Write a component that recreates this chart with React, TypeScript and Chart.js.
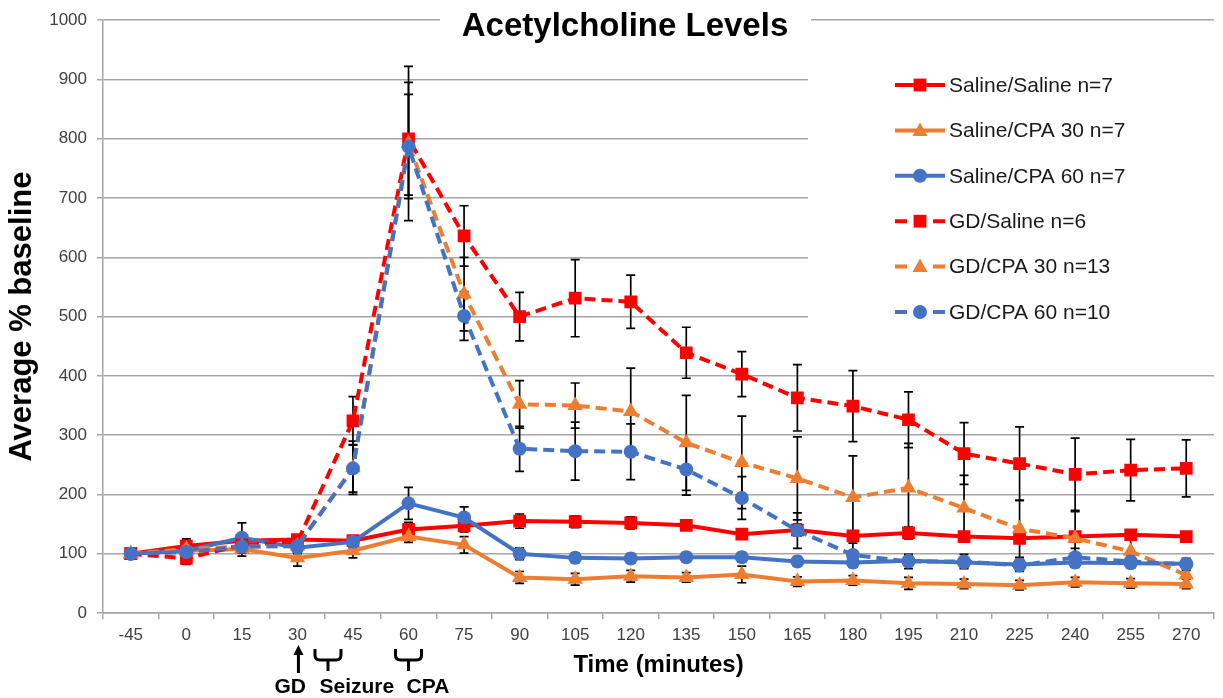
import React, { useEffect, useRef } from 'react';
import { Chart, registerables } from 'chart.js';

Chart.register(...registerables);

const FONT = "'Liberation Sans', Arial, Helvetica, sans-serif";

const timeLabels = ['-45', '0', '15', '30', '45', '60', '75', '90', '105', '120', '135', '150', '165', '180', '195', '210', '225', '240', '255', '270'];

const seriesNames = [
  'Saline/Saline n=7',
  'Saline/CPA 30 n=7',
  'Saline/CPA 60 n=7',
  'GD/Saline n=6',
  'GD/CPA 30 n=13',
  'GD/CPA 60 n=10',
];

const salineSaline = [100, 113, 122, 124, 122, 141, 147, 155, 154, 152, 148, 133, 140, 130, 135, 129, 126, 129, 132, 129];
const salineSalineErr = [6, 12, 10, 8, 8, 12, 10, 12, 10, 10, 8, 8, 10, 8, 10, 8, 8, 8, 8, 8];

const salineCpa30 = [100, 105, 108, 93, 105, 129, 115, 60, 57, 62, 60, 65, 53, 55, 50, 49, 47, 52, 50, 49];
const salineCpa30Err = [5, 10, 12, 14, 12, 10, 14, 10, 10, 10, 8, 14, 8, 8, 10, 8, 8, 8, 8, 8];

const salineCpa60 = [100, 105, 127, 110, 120, 185, 161, 100, 93, 92, 94, 94, 87, 85, 88, 85, 82, 85, 84, 83];
const salineCpa60Err = [5, 12, 25, 10, 10, 27, 18, 10, 8, 8, 8, 8, 8, 8, 8, 8, 8, 8, 8, 8];

const gdSaline = [100, 92, 115, 120, 324, 800, 636, 500, 531, 525, 439, 403, 363, 349, 326, 269, 252, 234, 241, 244];
const gdSalineErr = [5, 10, 10, 10, 41, 95, 51, 41, 65, 45, 43, 38, 56, 60, 47, 52, 62, 61, 52, 48];

const gdCpa30 = [100, 108, 112, 113, 245, 792, 538, 352, 350, 340, 287, 254, 227, 195, 211, 177, 142, 126, 104, 64];
const gdCpa30Err = [5, 10, 10, 10, 45, 130, 62, 40, 38, 73, 80, 78, 70, 70, 75, 55, 48, 45, 28, 20];

const gdCpa60 = [100, 103, 112, 113, 244, 787, 501, 277, 273, 272, 242, 194, 139, 98, 87, 87, 80, 94, 87, 82];
const gdCpa60Err = [5, 8, 10, 8, 40, 88, 41, 38, 49, 47, 43, 36, 30, 20, 12, 12, 10, 15, 10, 10];

const RED = '#ff0000';
const ORANGE = '#ed7d31';
const BLUE = '#4472c4';

const seriesColors = [RED, ORANGE, BLUE, RED, ORANGE, BLUE];
const seriesMarkers = ['rect', 'triangle', 'circle', 'rect', 'triangle', 'circle'];
const seriesDashed = [false, false, false, true, true, true];
const seriesValues = [salineSaline, salineCpa30, salineCpa60, gdSaline, gdCpa30, gdCpa60];
const seriesErrors = [salineSalineErr, salineCpa30Err, salineCpa60Err, gdSalineErr, gdCpa30Err, gdCpa60Err];

const markerRadius: Record<string, number> = { rect: 9, triangle: 9, circle: 7 };

function drawMarker(ctx: CanvasRenderingContext2D, style: string, x: number, y: number, color: string) {
  ctx.save();
  ctx.fillStyle = color;
  ctx.beginPath();
  if (style === 'rect') {
    const s = 6.4;
    ctx.rect(x - s, y - s, 2 * s, 2 * s);
  } else if (style === 'triangle') {
    ctx.moveTo(x, y - 8);
    ctx.lineTo(x + 7.5, y + 5.5);
    ctx.lineTo(x - 7.5, y + 5.5);
    ctx.closePath();
  } else {
    ctx.arc(x, y, 7, 0, Math.PI * 2);
  }
  ctx.fill();
  ctx.restore();
}

const overlayPlugin = {
  id: 'overlay',
  beforeDatasetsDraw(chart: any) {
    const ctx: CanvasRenderingContext2D = chart.ctx;
    // white boxes behind title and legend (hide gridlines)
    ctx.save();
    ctx.fillStyle = '#ffffff';
    ctx.fillRect(440, 0, 371, 46);
    ctx.fillRect(808, 40, 415, 296);
    ctx.restore();

    // error bars
    const yScale = chart.scales.y;
    ctx.save();
    ctx.strokeStyle = '#000000';
    ctx.lineWidth = 1.7;
    chart.data.datasets.forEach((ds: any, i: number) => {
      const meta = chart.getDatasetMeta(i);
      meta.data.forEach((pt: any, j: number) => {
        const v = ds.data[j];
        const e = ds.errors[j];
        const yt = yScale.getPixelForValue(v + e);
        const yb = yScale.getPixelForValue(v - e);
        const x = pt.x;
        ctx.beginPath();
        ctx.moveTo(x, yt);
        ctx.lineTo(x, yb);
        ctx.moveTo(x - 4.5, yt);
        ctx.lineTo(x + 4.5, yt);
        ctx.moveTo(x - 4.5, yb);
        ctx.lineTo(x + 4.5, yb);
        ctx.stroke();
      });
    });
    ctx.restore();
  },
  afterDraw(chart: any) {
    const ctx: CanvasRenderingContext2D = chart.ctx;
    const xScale = chart.scales.x;
    const area = chart.chartArea;
    ctx.save();

    // title
    ctx.fillStyle = '#000000';
    ctx.textAlign = 'center';
    ctx.textBaseline = 'middle';
    ctx.font = `bold 33px ${FONT}`;
    ctx.fillText('Acetylcholine Levels', 625, 27);

    // legend
    chart.data.datasets.forEach((ds: any, i: number) => {
      const y = 85 + i * 45.4;
      ctx.strokeStyle = ds.borderColor;
      ctx.lineWidth = 4;
      ctx.beginPath();
      if (ds.borderDash && ds.borderDash.length) {
        ctx.moveTo(895, y);
        ctx.lineTo(907, y);
        ctx.moveTo(933, y);
        ctx.lineTo(945, y);
      } else {
        ctx.moveTo(895, y);
        ctx.lineTo(945, y);
      }
      ctx.stroke();
      drawMarker(ctx, ds.pointStyle, 920, y, ds.backgroundColor);
      ctx.fillStyle = '#1a1a1a';
      ctx.textAlign = 'left';
      ctx.textBaseline = 'middle';
      ctx.font = `21px ${FONT}`;
      ctx.fillText(ds.label, 949, y + 1);
    });

    // y axis title
    ctx.save();
    ctx.translate(22, (area.top + area.bottom) / 2);
    ctx.rotate(-Math.PI / 2);
    ctx.fillStyle = '#000000';
    ctx.textAlign = 'center';
    ctx.textBaseline = 'middle';
    ctx.font = `bold 31px ${FONT}`;
    ctx.fillText('Average % baseline', 0, 0);
    ctx.restore();

    // x axis title
    ctx.fillStyle = '#000000';
    ctx.textAlign = 'center';
    ctx.textBaseline = 'middle';
    ctx.font = `bold 24px ${FONT}`;
    ctx.fillText('Time (minutes)', (area.left + area.right) / 2, 665);

    // annotations
    const step = xScale.getPixelForValue(1) - xScale.getPixelForValue(0);
    const gdX = xScale.getPixelForValue(3) + 1;
    ctx.strokeStyle = '#000000';
    ctx.fillStyle = '#000000';
    ctx.lineWidth = 3;
    ctx.beginPath();
    ctx.moveTo(gdX, 673);
    ctx.lineTo(gdX, 653);
    ctx.stroke();
    ctx.beginPath();
    ctx.moveTo(gdX, 645);
    ctx.lineTo(gdX + 5, 655);
    ctx.lineTo(gdX - 5, 655);
    ctx.closePath();
    ctx.fill();

    const bracket = (xc: number) => {
      const xl = xc - 13;
      const xr = xc + 13;
      ctx.beginPath();
      ctx.moveTo(xl, 649);
      ctx.lineTo(xl, 655);
      ctx.quadraticCurveTo(xl, 660, xl + 5, 660);
      ctx.lineTo(xr - 5, 660);
      ctx.quadraticCurveTo(xr, 660, xr, 655);
      ctx.lineTo(xr, 649);
      ctx.moveTo(xc, 660);
      ctx.lineTo(xc, 671);
      ctx.stroke();
    };
    bracket(xScale.getPixelForValue(3) + step * 0.55);
    bracket(xScale.getPixelForValue(5));

    ctx.font = `bold 21px ${FONT}`;
    ctx.textAlign = 'center';
    ctx.textBaseline = 'middle';
    ctx.fillText('GD', xScale.getPixelForValue(3) - step * 0.13, 687);
    ctx.fillText('Seizure', xScale.getPixelForValue(4) + step * 0.07, 687);
    ctx.fillText('CPA', xScale.getPixelForValue(5) + step * 0.35, 687);

    ctx.restore();
  },
};

export default function App() {
  const canvasRef = useRef<HTMLCanvasElement | null>(null);

  useEffect(() => {
    const canvas = canvasRef.current;
    if (!canvas) return;

    const datasets = seriesNames.map((name, i) => ({
      label: name,
      data: seriesValues[i],
      errors: seriesErrors[i],
      borderColor: seriesColors[i],
      backgroundColor: seriesColors[i],
      pointBackgroundColor: seriesColors[i],
      pointBorderColor: seriesColors[i],
      pointBorderWidth: 0,
      pointStyle: seriesMarkers[i],
      pointRadius: markerRadius[seriesMarkers[i]],
      borderWidth: 4,
      borderDash: seriesDashed[i] ? [11, 6] : [],
      tension: 0,
      fill: false,
      order: 5 - i,
    }));

    const chart = new Chart(canvas, {
      type: 'line',
      data: { labels: timeLabels, datasets: datasets as any },
      options: {
        responsive: false,
        animation: false,
        layout: { padding: { top: 15, right: 0, bottom: 0, left: 0 } },
        plugins: {
          legend: { display: false },
          title: { display: false },
          tooltip: { enabled: false },
        },
        scales: {
          x: {
            type: 'category',
            offset: true,
            grid: {
              offset: true,
              drawOnChartArea: false,
              drawTicks: true,
              tickLength: 6,
              color: '#a6a6a6',
              lineWidth: 1.5,
            },
            border: { display: true, color: '#a6a6a6', width: 1.5 },
            ticks: {
              autoSkip: false,
              maxRotation: 0,
              padding: 6,
              color: '#404040',
              font: { family: FONT, size: 17 },
            },
            afterFit: (s: any) => {
              s.height = 85;
            },
          },
          y: {
            min: 0,
            max: 1000,
            ticks: {
              stepSize: 100,
              padding: 10,
              color: '#404040',
              font: { family: FONT, size: 17 },
              callback: (v: any) => String(v),
            },
            grid: {
              color: '#a6a6a6',
              lineWidth: 1.5,
              drawTicks: true,
              tickLength: 6,
            },
            border: { display: true, color: '#a6a6a6', width: 1.5 },
            afterFit: (s: any) => {
              s.width = 103;
            },
          },
        },
      },
      plugins: [overlayPlugin],
    });

    return () => {
      chart.destroy();
    };
  }, []);

  return (
    <div style={{ position: 'fixed', left: 0, top: 0, width: 1223, height: 698, background: '#ffffff' }}>
      <canvas ref={canvasRef} width={1223} height={698} style={{ display: 'block', width: 1223, height: 698 }} />
    </div>
  );
}
